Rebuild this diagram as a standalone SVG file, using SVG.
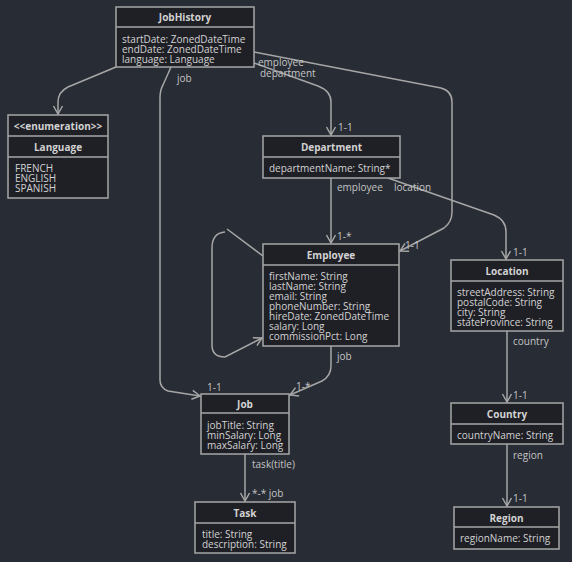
<svg xmlns="http://www.w3.org/2000/svg" width="572" height="562" viewBox="0 0 572 562">
<style>
.box{fill:#1f2026;stroke:#a6a6a6;stroke-width:1.5}
.div{stroke:#a6a6a6;stroke-width:1.5}
.t{font-family:"Open Sans","Liberation Sans",sans-serif;font-size:10px;fill:#d2d2d2}
.b{font-weight:bold;text-anchor:middle}
.lbl{font-family:"Open Sans","Liberation Sans",sans-serif;font-size:10px;fill:#c4c4c4}
.c{fill:none;stroke:#a6a6a6;stroke-width:1.5;marker-end:url(#arr)}
</style>
<defs>
<marker id="arr" markerUnits="userSpaceOnUse" markerWidth="12" markerHeight="12" refX="0" refY="0" viewBox="-10 -6 12 12" orient="auto">
<path d="M-8,-4.5 L0,0 L-8,4.5" fill="none" stroke="#a6a6a6" stroke-width="1.5"/>
</marker>
</defs>
<rect width="572" height="562" fill="#282c34"/>
<g id="connectors">
<path class="c" d="M116,67 L68,87 Q58,92 58,102 L58,114"/>
<path class="c" d="M171,67 L163,85 Q160,90 160,98 L160,380 Q160,388 168,391 L200,396"/>
<path class="c" d="M254,63 L318,86 Q331,91 331,102 L331,135"/>
<path class="c" d="M254,52 L441,88 Q452,91 452,102 L452,212 Q452,222 444,228 L400,251"/>
<path class="c" d="M331,178 L331,243"/>
<path class="c" d="M388,178 L494,215 Q506,220 506,232 L506,259"/>
<path fill="none" stroke="#a6a6a6" stroke-width="1.5" d="M263,256 L227,229"/>
<path class="c" d="M225,232 Q212,233 212,248 L212,345 Q212,357 225,357 L262,338"/>
<path class="c" d="M331,346 L331,366 Q331,376 322,381 L290,395"/>
<path class="c" d="M507,331 L507,402"/>
<path class="c" d="M507,444 L507,506"/>
<path class="c" d="M245,454 L245,501"/>
<g class="lbl">
<text x="177" y="81.5">job</text>
<text x="258" y="65.5">employee</text>
<text x="260" y="76.5">department</text>
<text x="338" y="130.5">1-1</text>
<text x="337" y="190.5">employee</text>
<text x="394" y="190.5">location</text>
<text x="337" y="239.5">1-*</text>
<text x="405" y="248.5">1-1</text>
<text x="513" y="255.5">1-1</text>
<text x="337" y="359.5">job</text>
<text x="296" y="389.5">1-*</text>
<text x="207" y="390.5">1-1</text>
<text x="513" y="344.5">country</text>
<text x="513" y="398.5">1-1</text>
<text x="513" y="458.5">region</text>
<text x="513" y="501.5">1-1</text>
<text x="252" y="467.5">task(title)</text>
<text x="252" y="496.5">*-* job</text>
</g>
</g>
<g id="JobHistory">
<rect class="box" x="116" y="7" width="138" height="60"/>
<line class="div" x1="116" y1="27" x2="254" y2="27"/>
<text class="t b" x="185" y="20.5">JobHistory</text>
<text class="t" x="122" y="42.5">startDate: ZonedDateTime</text>
<text class="t" x="122" y="52.5">endDate: ZonedDateTime</text>
<text class="t" x="122" y="62.5">language: Language</text>
</g>
<g id="Language">
<rect class="box" x="8" y="115" width="100" height="83"/>
<line class="div" x1="8" y1="136" x2="108" y2="136"/>
<line class="div" x1="8" y1="157" x2="108" y2="157"/>
<text class="t b" x="58" y="129.5">&lt;&lt;enumeration&gt;&gt;</text>
<text class="t b" x="58" y="150.5">Language</text>
<text class="t" x="15" y="171.5">FRENCH</text>
<text class="t" x="15" y="181.5">ENGLISH</text>
<text class="t" x="15" y="191.5">SPANISH</text>
</g>
<g id="Department">
<rect class="box" x="263" y="136" width="137" height="42"/>
<line class="div" x1="263" y1="157" x2="400" y2="157"/>
<text class="t b" x="331.5" y="150.5">Department</text>
<text class="t" x="269" y="171.5">departmentName: String*</text>
</g>
<g id="Employee">
<rect class="box" x="263" y="244" width="136" height="102"/>
<line class="div" x1="263" y1="265" x2="399" y2="265"/>
<text class="t b" x="331" y="258.5">Employee</text>
<text class="t" x="269" y="279.5">firstName: String</text>
<text class="t" x="269" y="289.5">lastName: String</text>
<text class="t" x="269" y="299.5">email: String</text>
<text class="t" x="269" y="309.5">phoneNumber: String</text>
<text class="t" x="269" y="319.5">hireDate: ZonedDateTime</text>
<text class="t" x="269" y="329.5">salary: Long</text>
<text class="t" x="269" y="339.5">commissionPct: Long</text>
</g>
<g id="Location">
<rect class="box" x="451" y="260" width="112" height="71"/>
<line class="div" x1="451" y1="281" x2="563" y2="281"/>
<text class="t b" x="507" y="274.5">Location</text>
<text class="t" x="457" y="295.5">streetAddress: String</text>
<text class="t" x="457" y="305.5">postalCode: String</text>
<text class="t" x="457" y="315.5">city: String</text>
<text class="t" x="457" y="325.5">stateProvince: String</text>
</g>
<g id="Country">
<rect class="box" x="451" y="403" width="112" height="41"/>
<line class="div" x1="451" y1="424" x2="563" y2="424"/>
<text class="t b" x="507" y="417.5">Country</text>
<text class="t" x="457" y="438.5">countryName: String</text>
</g>
<g id="Region">
<rect class="box" x="454" y="507" width="105" height="42"/>
<line class="div" x1="454" y1="527" x2="559" y2="527"/>
<text class="t b" x="506.5" y="521.5">Region</text>
<text class="t" x="460" y="541.5">regionName: String</text>
</g>
<g id="Job">
<rect class="box" x="201" y="394" width="88" height="60"/>
<line class="div" x1="201" y1="413" x2="289" y2="413"/>
<text class="t b" x="245" y="407.5">Job</text>
<text class="t" x="207" y="428.5">jobTitle: String</text>
<text class="t" x="207" y="438.5">minSalary: Long</text>
<text class="t" x="207" y="448.5">maxSalary: Long</text>
</g>
<g id="Task">
<rect class="box" x="195" y="502" width="100" height="51"/>
<line class="div" x1="195" y1="523" x2="295" y2="523"/>
<text class="t b" x="245" y="516.5">Task</text>
<text class="t" x="202" y="537.5">title: String</text>
<text class="t" x="202" y="547.5">description: String</text>
</g>
</svg>
